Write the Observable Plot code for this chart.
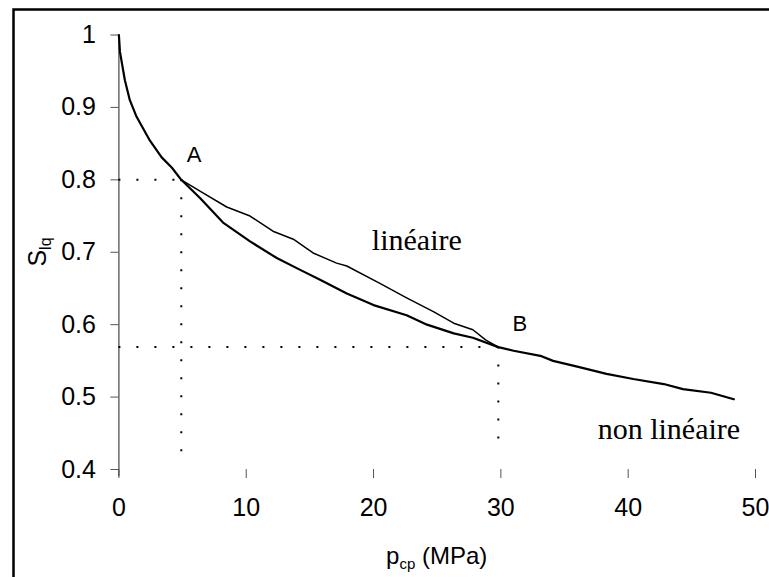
<!DOCTYPE html>
<html><head><meta charset="utf-8">
<script src="https://cdn.jsdelivr.net/npm/d3@7"></script>
<script src="https://cdn.jsdelivr.net/npm/@observablehq/plot@0.6"></script>
<style>body{margin:0;background:#fff}#chart{position:relative;width:769px;height:577px;overflow:hidden}</style>
</head><body><div id="chart"></div>
<script>
// Non-linear curve (p_cp in MPa, S_lq)
const nonlinP = [0, 0.08, 0.47, 0.86, 1.39, 2.44, 3.36, 4.15, 4.9, 6.37, 8.18, 10.3, 12.4, 14.2, 15.8, 17.9, 20.0, 22.6, 24.2, 26.3, 27.8, 29.8, 31.0, 33.1, 34.1, 36.0, 38.3, 40.4, 42.8, 44.3, 46.5, 48.3];
const nonlinS = [1.0, 0.977, 0.9375, 0.91, 0.887, 0.854, 0.831, 0.817, 0.8, 0.775, 0.741, 0.715, 0.692, 0.676, 0.662, 0.643, 0.627, 0.613, 0.600, 0.588, 0.582, 0.569, 0.564, 0.557, 0.550, 0.542, 0.532, 0.525, 0.518, 0.511, 0.506, 0.497];
// Linear curve between A and B
const linP = [4.9, 6.6, 8.47, 10.3, 12.1, 13.7, 15.25, 17.1, 17.9, 20.5, 22.6, 24.7, 26.3, 27.8, 28.8, 29.8];
const linS = [0.8, 0.782, 0.7625, 0.75, 0.729, 0.718, 0.699, 0.685, 0.681, 0.657, 0.637, 0.618, 0.602, 0.593, 0.579, 0.569];
// Tick values
const xTicks = [0, 10, 20, 30, 40, 50];
const yTicks = [0.4, 0.5, 0.6, 0.7, 0.8, 0.9, 1];
// Reference points A and B
const refNames = ["A", "B"];
const refP = [4.9, 29.8];
const refS = [0.8, 0.569];
const refLabelP = [5.9, 31.5];
const refLabelS = [0.834, 0.601];
// Curve labels
const curveLabels = ["linéaire", "non linéaire"];
const curveLabelP = [23.4, 43.2];
const curveLabelS = [0.7166, 0.4554];

const nonlin = nonlinP.map((p, i) => ({p, s: nonlinS[i]}));
const lin = linP.map((p, i) => ({p, s: linS[i]}));
const refs = refNames.map((n, i) => ({n, p: refP[i], s: refS[i], lp: refLabelP[i], ls: refLabelS[i]}));
const cl = curveLabels.map((t, i) => ({t, p: curveLabelP[i], s: curveLabelS[i]}));

const sans = "'Liberation Sans', Arial, sans-serif";
const serif = "'Liberation Serif', 'Times New Roman', serif";

const plot = Plot.plot({
  width: 769, height: 577,
  marginLeft: 118.4, marginRight: 14, marginTop: 34.5, marginBottom: 108,
  style: {fontFamily: sans, background: "white", color: "#000"},
  x: {domain: [0, 50]},
  y: {domain: [0.4, 1]},
  marks: [
    Plot.axisY({ticks: yTicks, tickSize: 8, tickPadding: 15, fontSize: 25, stroke: "#555", tickFormat: d => String(d), label: null}),
    Plot.axisX({ticks: xTicks, tickSize: 9, tickPadding: 20, fontSize: 25, stroke: "#555", label: null}),
    Plot.ruleX([0], {y1: 0.39, y2: 1, stroke: "#444", strokeWidth: 1.2}),
    Plot.ruleY(refs, {y: "s", x1: 0, x2: "p", stroke: "#000", strokeWidth: 2, strokeDasharray: "2,16"}),
    Plot.ruleX(refs, {x: "p", y1: "s", y2: 0.42, stroke: "#000", strokeWidth: 2, strokeDasharray: "2,16"}),
    Plot.line(lin, {x: "p", y: "s", stroke: "#000", strokeWidth: 1.5}),
    Plot.line(nonlin, {x: "p", y: "s", stroke: "#000", strokeWidth: 2.2}),
    Plot.text(refs, {x: "lp", y: "ls", text: "n", fontSize: 22, fontFamily: sans, fill: "#000"}),
    Plot.text(cl, {x: "p", y: "s", text: "t", fontSize: 30, fontFamily: serif, fill: "#000"})
  ]
});

const svg = d3.select(plot);
// frame border (left and top visible)
svg.append("path").attr("d", "M13.5,577V9.5H769").attr("fill", "none").attr("stroke", "#000").attr("stroke-width", 2.5);
// x-axis label
const xs = plot.scale("x");
const xl = svg.append("text").attr("x", xs.apply(25)).attr("y", 564).attr("text-anchor", "middle")
  .attr("font-family", sans).attr("font-size", 24).attr("fill", "#000");
xl.append("tspan").text("p");
xl.append("tspan").attr("font-size", 15).attr("dy", 5).text("cp");
xl.append("tspan").attr("dy", -5).text(" (MPa)");
// y-axis label
const yl = svg.append("text").attr("transform", "translate(46,252) rotate(-90)").attr("text-anchor", "middle")
  .attr("font-family", sans).attr("font-size", 25).attr("fill", "#000");
yl.append("tspan").text("S");
yl.append("tspan").attr("font-size", 16).attr("dy", 5).text("lq");

document.getElementById("chart").appendChild(plot);
</script>
</body></html>
